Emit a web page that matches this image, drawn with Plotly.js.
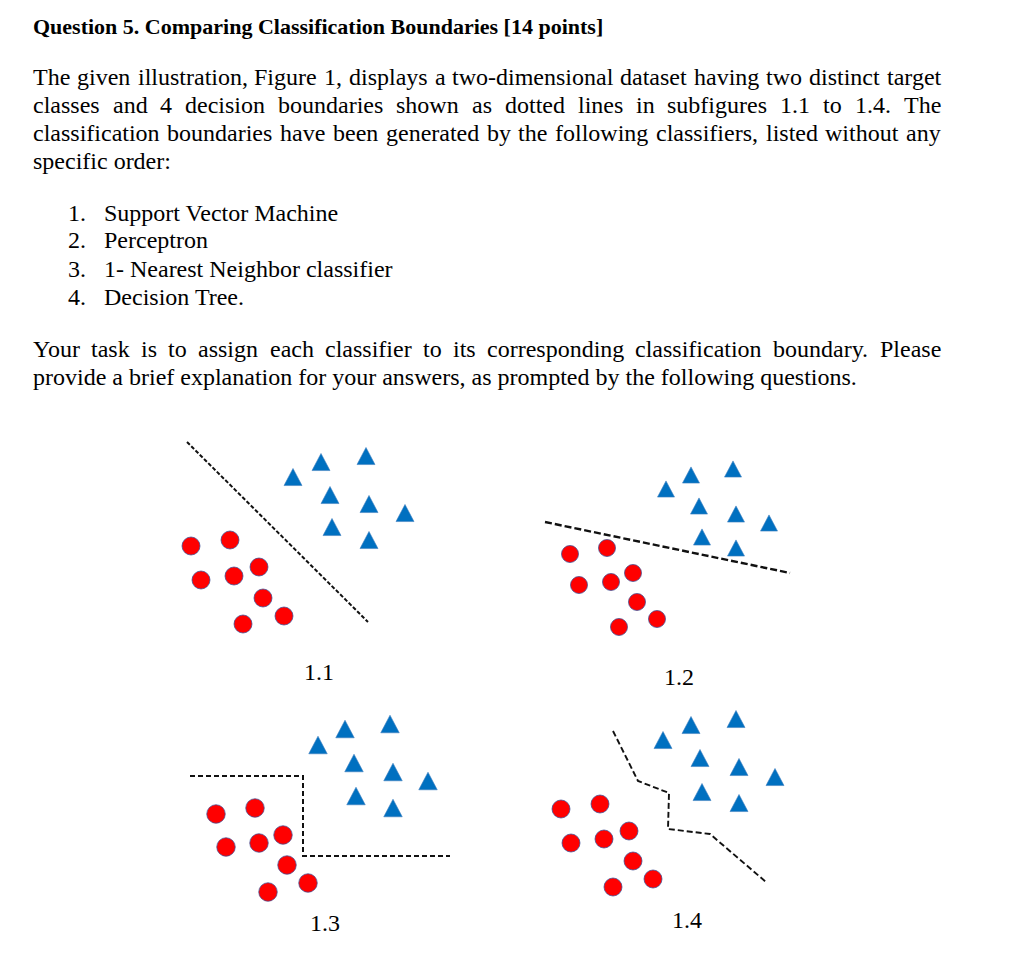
<!DOCTYPE html>
<html>
<head>
<meta charset="utf-8">
<script src="https://cdn.plot.ly/plotly-3.0.1.min.js"></script>
<style>html,body{margin:0;padding:0;background:#fff;}#chart{width:1024px;height:960px;}</style>
</head>
<body>
<div id="chart"></div>
<script>
// ---------------- DATA ----------------
const panelLabels = ['1.1', '1.2', '1.3', '1.4'];
// red circles (class A), local coordinates of each sub-figure
const redX = [[16,55,26,59,84,88,109,68],[35,72,44,76,98,102,122,84],[41,80,51,84,108,112,133,93],[16,55,26,59,84,88,108,68]];
const redY = [[116,110,150,146,137,168,186,194],[124,118,155,152,143,172,189,197],[114,108,147,143,135,165,183,192],[109,104,143,139,131,161,179,187]];
// blue triangles (class B)
const blueX = [[118,146,191,155,194,230,157,194],[131,156,198,164,201,234,167,201],[143,170,215,179,218,253,181,218],[118,146,191,155,194,230,157,194]];
const blueY = [[47,32,26,65,74,83,97,110],[59,45,39,76,84,93,107,118],[45,29,24,63,72,81,96,108],[40,25,19,58,67,77,92,103]];
// decision boundaries (dotted lines)
const boundaryX = [[12,193],[10,255],[15,128,128,275],[68,93,124,123,165,221]];
const boundaryY = [[12,192],[92,143],[76,76,156,156],[31,81,93,129,134,182]];

// text content
const titleText = 'Question 5. Comparing Classification Boundaries [14 points]';
const introLines = [
  'The given illustration, Figure 1, displays a two-dimensional dataset having two distinct target',
  'classes and 4 decision boundaries shown as dotted lines in subfigures 1.1 to 1.4. The',
  'classification boundaries have been generated by the following classifiers, listed without any',
  'specific order:'
];
const listNumbers = ['1.', '2.', '3.', '4.'];
const listItems = ['Support Vector Machine', 'Perceptron', '1- Nearest Neighbor classifier', 'Decision Tree.'];
const taskLines = [
  'Your task is to assign each classifier to its corresponding classification boundary. Please',
  'provide a brief explanation for your answers, as prompted by the following questions.'
];

// ---------------- LAYOUT / STYLE ----------------
const W = 1024, H = 960;
const PW = 280, PH = 210;
const panelOrigin = [[175,430],[535,430],[175,700],[545,700]];
const markSize = [18, 17, 18.5, 18];
const dashStyle = ['4px,2px', '7px,3px', '5px,3px', '6px,3px'];
const dashWidth = [2, 2.4, 2, 1.9];
const labelPos = [[318.5,672],[679,677],[324.5,923],[687,920]];
const RED = '#FF0000', BLUE = '#0070C0';
const SERIF = 'Liberation Serif';

const canvas = document.createElement('canvas');
const ctx = canvas.getContext('2d');
function measure(t, size, bold) {
  ctx.font = (bold ? 'bold ' : '') + size + 'px "' + SERIF + '"';
  return ctx.measureText(t).width;
}
// fit font sizes to widths seen on the page
let bodySize = 22 * (867 - 33) / measure(taskLines[1], 22, false);
bodySize = Math.max(19, Math.min(24, bodySize));
let titleSize = 20 * (613 - 33) / measure(titleText, 20, true);
titleSize = Math.max(17, Math.min(22, titleSize));

const PAD = 2; // annotation inner padding
const annotations = [];
function addText(text, px, py, size, bold, anchor) {
  annotations.push({
    text: bold ? '<b>' + text + '</b>' : text,
    x: (anchor === 'center' ? px : px - PAD) / W, y: 1 - py / H,
    xref: 'paper', yref: 'paper', xanchor: anchor || 'left', yanchor: 'middle',
    showarrow: false, font: {family: SERIF, size: size, color: '#000'}
  });
}
function addJustified(line, x0, x1, py, size) {
  const words = line.split(' ');
  const ws = words.map(w => measure(w, size, false));
  const total = ws.reduce((a, b) => a + b, 0);
  const gap = (x1 - x0 - total) / (words.length - 1);
  let x = x0;
  words.forEach((w, i) => { addText(w, x, py, size, false); x += ws[i] + gap; });
}

addText(titleText, 33, 27, titleSize, true);
const introY = [77, 105, 133, 161];
introLines.forEach((l, i) => {
  if (i < 3) addJustified(l, 33, 941, introY[i], bodySize);
  else addText(l, 33, introY[i], bodySize, false);
});
const listY = [213, 240, 269, 297];
listItems.forEach((t, i) => {
  addText(listNumbers[i], 68, listY[i], bodySize, false);
  addText(t, 104, listY[i], bodySize, false);
});
addJustified(taskLines[0], 33, 941, 349, bodySize);
addText(taskLines[1], 33, 377, bodySize, false);
panelLabels.forEach((l, i) => addText(l, labelPos[i][0], labelPos[i][1], bodySize, false, 'center'));

// ---------------- TRACES ----------------
const traces = [];
const layout = {
  width: W, height: H, margin: {l: 0, r: 0, t: 0, b: 0},
  paper_bgcolor: '#fff', plot_bgcolor: 'rgba(0,0,0,0)', showlegend: false,
  annotations: annotations
};
panelLabels.forEach((lab, p) => {
  const n = p + 1;
  const xa = 'x' + (n === 1 ? '' : n), ya = 'y' + (n === 1 ? '' : n);
  const [ox, oy] = panelOrigin[p];
  layout['xaxis' + (n === 1 ? '' : n)] = {domain: [ox / W, (ox + PW) / W], range: [0, PW], visible: false, fixedrange: true};
  layout['yaxis' + (n === 1 ? '' : n)] = {domain: [1 - (oy + PH) / H, 1 - oy / H], range: [PH, 0], visible: false, fixedrange: true};

  // boundary
  traces.push({type: 'scatter', mode: 'lines', x: boundaryX[p], y: boundaryY[p], xaxis: xa, yaxis: ya,
    line: {color: '#111', width: dashWidth[p], dash: dashStyle[p]}, hoverinfo: 'skip', name: 'boundary ' + lab});

  // triangles as filled polygons around each data point
  const s = markSize[p], h = markSize[p] * 0.95;
  const tx = [], ty = [];
  blueX[p].forEach((cx, i) => {
    const cy = blueY[p][i];
    tx.push(cx - s / 2, cx + s / 2, cx, cx - s / 2, null);
    ty.push(cy + h / 2, cy + h / 2, cy - h / 2, cy + h / 2, null);
  });
  traces.push({type: 'scatter', mode: 'lines', x: tx, y: ty, xaxis: xa, yaxis: ya, fill: 'toself',
    fillcolor: BLUE, line: {color: '#3f7fc0', width: 0.6}, hoverinfo: 'skip', name: 'class B ' + lab});

  // circles
  traces.push({type: 'scatter', mode: 'markers', x: redX[p], y: redY[p], xaxis: xa, yaxis: ya,
    marker: {symbol: 'circle', size: markSize[p], color: RED, line: {color: 'rgba(60,80,150,0.75)', width: 1}},
    name: 'class A ' + lab});
});

Plotly.newPlot('chart', traces, layout, {staticPlot: true, displayModeBar: false});
</script>
</body>
</html>
